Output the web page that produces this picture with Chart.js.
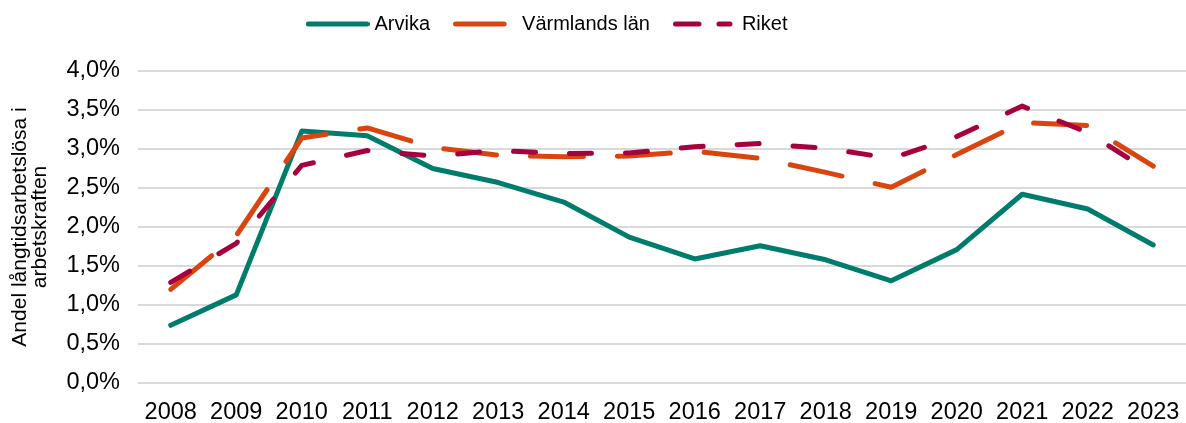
<!DOCTYPE html>
<html>
<head>
<meta charset="utf-8">
<script src="https://cdn.jsdelivr.net/npm/chart.js@4.4.1/dist/chart.umd.min.js"></script>
<style>
  html, body { margin: 0; padding: 0; background: #ffffff; }
  canvas { display: block; }
</style>
</head>
<body>
<canvas id="c" width="1186" height="423"></canvas>
<script>
const years = ['2008','2009','2010','2011','2012','2013','2014','2015','2016','2017','2018','2019','2020','2021','2022','2023'];
const arvika = [0.74, 1.13, 3.23, 3.17, 2.75, 2.57, 2.32, 1.87, 1.59, 1.76, 1.58, 1.31, 1.71, 2.42, 2.23, 1.77];
const varmland = [1.20, 1.89, 3.14, 3.27, 3.02, 2.92, 2.90, 2.91, 2.97, 2.88, 2.70, 2.51, 2.93, 3.34, 3.30, 2.78];
const riket = [1.29, 1.79, 2.79, 2.98, 2.91, 2.98, 2.94, 2.95, 3.03, 3.07, 3.01, 2.88, 3.16, 3.55, 3.21, 2.68];
const seriesNames = ['Arvika', 'Värmlands län', 'Riket'];
const yTitle = ['Andel långtidsarbetslösa i', 'arbetskraften'];

const FONT = "'Liberation Sans', Arial, sans-serif";
const C_ARVIKA = '#007C6C', C_VARM = '#D9440F', C_RIKET = '#A6003E';

// legend sample swatches (dash styles as in the original legend)
function swatch(color, segments) {
  const cv = document.createElement('canvas');
  cv.width = 64; cv.height = 8;
  const g = cv.getContext('2d');
  g.strokeStyle = color; g.lineWidth = 5; g.lineCap = 'round';
  segments.forEach(([a, b]) => { g.beginPath(); g.moveTo(a, 4); g.lineTo(b, 4); g.stroke(); });
  return cv;
}
const swArvika = swatch(C_ARVIKA, [[2.5, 61.5]]);
const swVarm = swatch(C_VARM, [[2.5, 51]]);
const swRiket = swatch(C_RIKET, [[2.5, 26], [46, 57]]);

const legendTweak = {
  id: 'legendTweak',
  beforeInit(chart) {
    const lg = chart.legend;
    if (!lg) return;
    const fit = lg.fit;
    lg.fit = function () { fit.call(this); this.height = 71; };
    const draw = lg.draw;
    lg.draw = function () {
      const c = this.ctx;
      c.save();
      c.translate(-44, -14);
      draw.call(this);
      c.restore();
    };
  }
};

new Chart(document.getElementById('c'), {
  type: 'line',
  data: {
    labels: years,
    datasets: [
      { label: seriesNames[0], data: arvika, borderColor: C_ARVIKA, backgroundColor: C_ARVIKA, pointStyle: swArvika,
        borderWidth: 5, pointRadius: 0, tension: 0, borderCapStyle: 'round', borderJoinStyle: 'round', order: 3 },
      { label: seriesNames[1], data: varmland, borderColor: C_VARM, backgroundColor: C_VARM, pointStyle: swVarm,
        borderWidth: 5, pointRadius: 0, tension: 0, borderDash: [53, 34], borderCapStyle: 'round', borderJoinStyle: 'round', order: 2 },
      { label: seriesNames[2], data: riket, borderColor: C_RIKET, backgroundColor: C_RIKET, pointStyle: swRiket,
        borderWidth: 5, pointRadius: 0, tension: 0, borderDash: [22, 34], borderCapStyle: 'round', borderJoinStyle: 'round', order: 1 }
    ]
  },
  options: {
    responsive: false,
    animation: false,
    devicePixelRatio: 1,
    layout: { padding: { left: 0, right: 0, top: 0, bottom: 0 } },
    plugins: {
      tooltip: { enabled: false },
      legend: {
        position: 'top',
        align: 'center',
        labels: {
          usePointStyle: true,
          pointStyleWidth: 54,
          boxHeight: 20,
          padding: 28,
          color: '#000000',
          font: { family: FONT, size: 20 },
          sort: (a, b) => a.datasetIndex - b.datasetIndex
        }
      }
    },
    scales: {
      x: {
        offset: true,
        afterFit: (s) => { s.height = 40; s.paddingLeft = 0; s.paddingRight = 0; },
        grid: { display: false, drawTicks: false },
        border: { display: false },
        ticks: { color: '#000000', font: { family: FONT, size: 23.5 }, padding: 15, maxRotation: 0, autoSkip: false }
      },
      y: {
        min: 0,
        max: 4,
        afterFit: (s) => { s.width = 138; },
        grid: { color: '#D9D9D9', lineWidth: 2, drawTicks: false },
        border: { display: false },
        ticks: {
          stepSize: 0.5,
          padding: 18,
          color: '#000000',
          font: { family: FONT, size: 23.5 },
          callback: (v) => v.toFixed(1).replace('.', ',') + '%'
        },
        title: {
          display: true,
          text: yTitle,
          color: '#000000',
          font: { family: FONT, size: 21, lineHeight: 0.95 },
          padding: { top: 10, bottom: 0 }
        }
      }
    }
  },
  plugins: [legendTweak]
});
</script>
</body>
</html>
